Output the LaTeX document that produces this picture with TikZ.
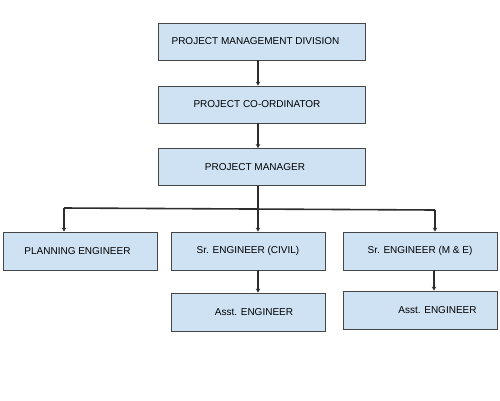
\documentclass[tikz,border=0pt]{standalone}
\usepackage{fontspec}
\setmainfont{Liberation Sans}
\usepackage{xcolor}
\usepackage{tikz}
\usetikzlibrary{arrows.meta, positioning, calc}
\definecolor{boxblue}{RGB}{207, 226, 243}
\definecolor{edgegray}{RGB}{70, 70, 70}
\definecolor{linkgray}{RGB}{45, 45, 45}

\begin{document}
\begin{tikzpicture}[x=1pt, y=-1pt,
  wide/.style={draw=edgegray, fill=boxblue, line width=0.9pt, minimum width=207pt, minimum height=37pt, inner sep=0pt, font=\fontsize{10}{12}\selectfont},
  unit/.style={draw=edgegray, fill=boxblue, line width=0.9pt, minimum width=154pt, minimum height=38pt, inner sep=0pt, font=\fontsize{10}{12}\selectfont},
  link/.style={line width=1.6pt, linkgray},
  arrow/.style={-{Stealth[length=4pt, width=4.5pt]}, line width=1.6pt, linkgray}
]
\useasboundingbox (0,0) rectangle (500,400);

% Top chain
\node[wide] (pmd) at (261.5, 41.5) {\hspace*{-12pt}PROJECT MANAGEMENT DIVISION};
\node[wide] (pc) at (261.5, 104.5) {\hspace*{-9pt}PROJECT CO-ORDINATOR};
\node[wide] (pm) at (261.5, 167) {\hspace*{-13pt}PROJECT MANAGER};

\draw[arrow] ([xshift=-3.5pt]pmd.south) -- ([xshift=-3.5pt]pc.north);
\draw[arrow] ([xshift=-3.5pt]pc.south) -- ([xshift=-3.5pt]pm.north);

% Engineers
\node[unit] (pe) at (80.5, 251) {\hspace*{-6pt}PLANNING ENGINEER};
\node[unit] (civ) at (248, 251) {Sr. ENGINEER (CIVIL)};
\node[unit] (me) at (420, 251) {Sr. ENGINEER (M \& E)};

\node[unit] (as1) at (248, 312) {\hspace*{12pt}Asst. ENGINEER};
\node[unit] (as2) at (420, 310) {\hspace*{35pt}Asst. ENGINEER};

% Bus
\coordinate (busL) at (64, 208);
\coordinate (busM) at (258, 209);
\coordinate (busR) at (435, 210);

\draw[link] ([xshift=-3.5pt]pm.south) -- (busM);
\draw[link] (busL) -- (busR);
\draw[arrow] (busL) -- (pe.north -| busL);
\draw[arrow] (busM) -- (civ.north -| busM);
\draw[arrow] (busR) -- (me.north -| busR);

\draw[arrow] ([xshift=10pt]civ.south) -- ([xshift=10pt]as1.north);
\draw[arrow] ([xshift=14pt]me.south) -- ([xshift=14pt]as2.north);

\end{tikzpicture}
\end{document}
